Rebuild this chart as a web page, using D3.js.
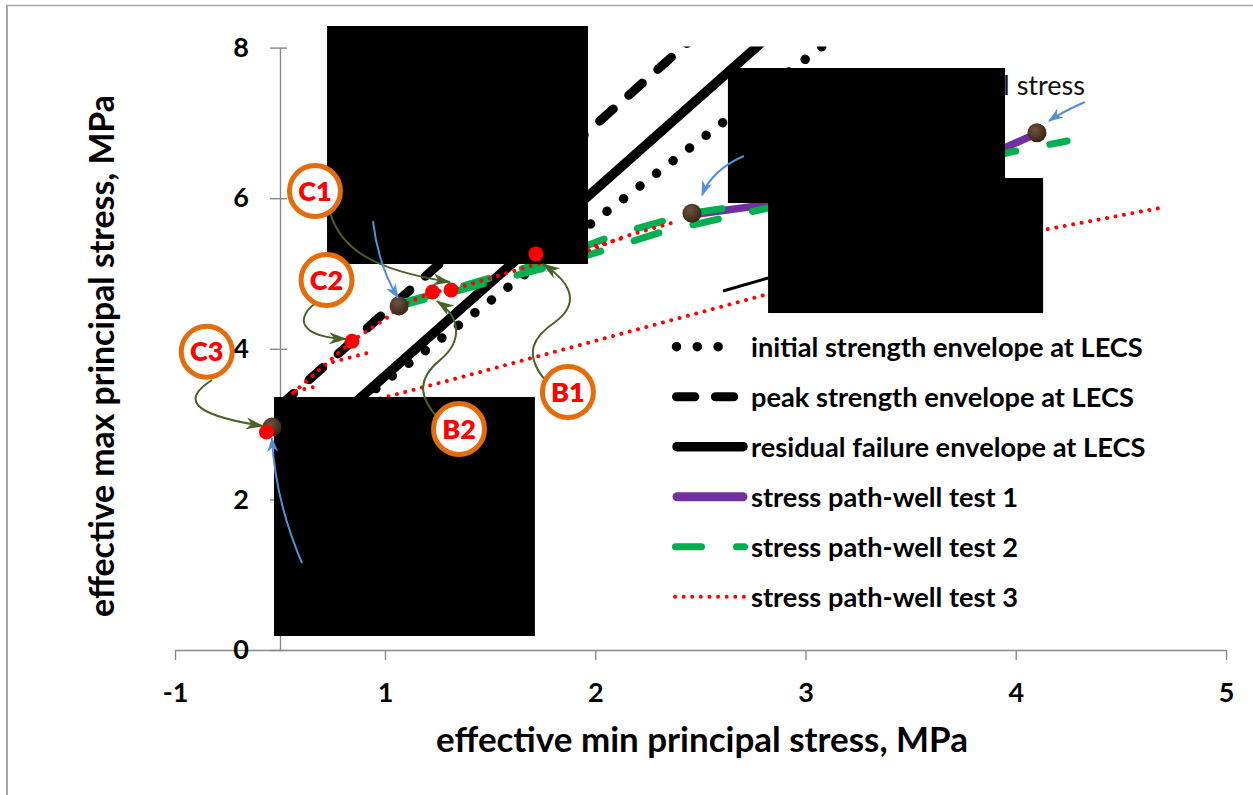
<!DOCTYPE html>
<html><head><meta charset="utf-8">
<script src="https://cdn.jsdelivr.net/npm/d3@7"></script>
<style>
body{margin:0;background:#fff}
svg{display:block}
text{font-family:Lato,"Open Sans",sans-serif}
</style>
</head><body>
<svg id="chart" width="1253" height="795"></svg>
<script>
// ---------- data ----------
const xTicks = [-1, 1, 2, 3, 4, 5];
const yTicks = [0, 2, 4, 6, 8];
const xTitle = "effective min principal stress, MPa";
const yTitle = "effective max principal stress, MPa";

const initialEnvelope  = [[3.077, 8.012], [0.5, 3.03]];
const peakEnvelope     = [[0.0, 3.245], [2.45, 8.09]];
const residualEnvelope = [[0.5, 3.02], [2.8, 8.09]];

const wellTest1 = [[2.460, 5.78], [2.831, 5.92], [3.949, 6.67], [4.101, 6.86]];
const wellTest2Lower = [[1.067, 4.568], [1.485, 4.874], [1.832, 5.126], [2.332, 5.564], [2.822, 5.870], [3.977, 6.614], [4.244, 6.760]];
const wellTest2Upper = [[1.095, 4.622], [1.404, 4.861], [1.713, 5.113], [2.108, 5.525], [2.460, 5.803], [2.688, 5.896]];
const wellTest3Upper = [[-0.114, 2.948], [0.124, 3.413], [0.686, 4.104], [1.014, 4.422], [1.071, 4.568], [1.224, 4.754], [1.314, 4.781], [1.675, 5.086], [1.975, 5.312], [2.132, 5.485], [2.379, 5.684]];
const wellTest3Return = [[1.718, 5.259], [2.023, 5.378], [2.132, 5.471]];
const wellTest3StepA = [[0.152, 3.440], [0.362, 3.506]];
const wellTest3StepB = [[0.505, 3.825], [0.829, 3.944]];
const wellTest3Lower = [[-0.076, 2.961], [1.347, 3.612], [2.822, 4.728], [4.130, 5.578], [4.710, 5.883]];

const initialStressPoints = [[-0.076, 2.96], [1.067, 4.57], [2.460, 5.80], [4.101, 6.87]];
const failurePoints = [[-0.129, 2.895], [0.686, 4.10], [1.226, 4.754], [1.314, 4.78], [1.718, 5.26]];

const leaderLine = [[2.608, 4.768], [2.822, 4.940]];

const legendLabels = ["initial strength envelope at LECS", "peak strength envelope at LECS",
  "residual failure envelope at LECS", "stress path-well test 1", "stress path-well test 2",
  "stress path-well test 3"];

const circleLabels = ["C1", "C2", "C3", "B2", "B1"];
const circleCenters = [[0.333, 6.096], [0.443, 4.914], [-0.698, 3.961], [1.352, 2.935], [1.870, 3.426]];

// curved connectors (cubic Bezier control points, data units)
const greenArrows = [
  [[0.476, 5.817], [0.571, 5.339], [0.876, 5.046], [1.309, 4.887]],
  [[0.381, 4.648], [0.114, 4.409], [0.190, 4.157], [0.629, 4.130]],
  [[-0.648, 3.586], [-0.914, 3.347], [-0.895, 3.134], [-0.162, 2.975]],
  [[1.247, 3.094], [1.157, 3.386], [1.157, 3.612], [1.262, 3.851], [1.366, 4.090], [1.366, 4.409], [1.247, 4.635]],
  [[1.761, 3.586], [1.652, 3.958], [1.713, 4.170], [1.809, 4.356], [1.918, 4.582], [1.903, 4.847], [1.751, 5.126]]
];
// quadratic connectors
const blueArrows = [
  [[0.886, 5.697], [0.933, 5.113], [1.062, 4.675]],
  [[2.707, 6.560], [2.555, 6.375], [2.508, 6.042]],
  [[4.329, 7.278], [4.220, 7.145], [4.158, 7.025]],
  [[0.210, 1.155], [-0.048, 1.992], [-0.076, 2.815]]
];
const noteText = "initial stress";
const notePos = [4.329, 7.371];

// masking boxes [x0, y0, x1, y1] in data units
const maskBoxes = [
  [0.448, 8.287, 1.9655, 5.126],
  [2.631, 7.729, 3.949, 5.936],
  [2.822, 6.268, 4.130, 4.475],
  [-0.057, 3.360, 1.713, 0.186]
];

// ---------- setup ----------
const svg = d3.select("#chart");
const x = d3.scaleLinear().domain([-1, 1, 5]).range([175, 385, 1226]);
const y = d3.scaleLinear().domain([0, 8]).range([650, 47.6]);
const line = d3.line().x(d => x(d[0])).y(d => y(d[1]));
const P = d => `${x(d[0])},${y(d[1])}`;

const defs = svg.append("defs");
defs.append("clipPath").attr("id", "plotClip").append("rect")
  .attr("x", x(-1)).attr("y", y(8) - 1).attr("width", x(5) - x(-1)).attr("height", y(0) - y(8) + 1);

function marker(id, color, len, wid) {
  defs.append("marker").attr("id", id).attr("markerUnits", "userSpaceOnUse")
    .attr("viewBox", `0 ${-wid/2} ${len} ${wid}`).attr("refX", len - 1).attr("refY", 0)
    .attr("markerWidth", len).attr("markerHeight", wid).attr("orient", "auto")
    .append("path").attr("d", `M0,${-wid/2} L${len},0 L0,${wid/2} L${len*0.3},0 Z`).attr("fill", color);
}
marker("arrG", "#4a6228", 18, 12);
marker("arrB", "#558ed5", 15, 11);

const grad = defs.append("radialGradient").attr("id", "brownGrad").attr("cx", "40%").attr("cy", "35%").attr("r", "65%");
grad.append("stop").attr("offset", "0%").attr("stop-color", "#6e5342");
grad.append("stop").attr("offset", "100%").attr("stop-color", "#3a2516");

// frame
svg.append("line").attr("x1", 6).attr("x2", 1253).attr("y1", 5.5).attr("y2", 5.5).attr("stroke", "#a8a8a8").attr("stroke-width", 1.5);
svg.append("line").attr("x1", 7).attr("x2", 7).attr("y1", 5).attr("y2", 795).attr("stroke", "#a8a8a8").attr("stroke-width", 2);

// ---------- axes ----------
const axisColor = "#898989";
const gx = svg.append("g").attr("transform", `translate(0,${y(0)})`)
  .call(d3.axisBottom(x).tickValues(xTicks).tickSize(10).tickSizeOuter(0).tickPadding(23).tickFormat(d => String(d)));
const gy = svg.append("g").attr("transform", `translate(${x(0)},0)`)
  .call(d3.axisLeft(y).tickValues(yTicks).tickSize(10).tickSizeOuter(0).tickPadding(21).tickFormat(d => String(d)));
[gx, gy].forEach(g => {
  g.select(".domain").attr("stroke", axisColor).attr("stroke-width", 1.4);
  g.selectAll(".tick line").attr("stroke", axisColor).attr("stroke-width", 1.4);
  g.selectAll(".tick text").attr("fill", "#000").attr("font-size", 27).attr("font-weight", 700)
    .attr("font-family", "Lato, sans-serif");
});
gy.selectAll(".tick line").attr("x1", 7);

function fit(sel, target) {
  const w = sel.node().getComputedTextLength();
  const fs = parseFloat(sel.attr("font-size"));
  sel.attr("font-size", fs * target / w);
  return fs * target / w;
}
const xt = svg.append("text").attr("x", 702).attr("y", 752).attr("text-anchor", "middle")
  .attr("font-size", 30).attr("font-weight", 700).text(xTitle);
fit(xt, 532);
const yt = svg.append("text").attr("transform", "translate(114,356) rotate(-90)").attr("text-anchor", "middle")
  .attr("font-size", 30).attr("font-weight", 700).text(yTitle);
fit(yt, 522);

// ---------- series ----------
const styles = {
  initial: {stroke: "#000", width: 9.5, dash: "0.01,20.8"},
  peak: {stroke: "#000", width: 9, dash: "18.3,20.6"},
  residual: {stroke: "#000", width: 9.5, dash: null},
  test1: {stroke: "#7030a0", width: 7.5, dash: null},
  test2: {stroke: "#00b050", width: 7, dash: "26,35"},
  test3: {stroke: "#ff0000", width: 4, dash: "0.01,8.6"}
};
const plot = svg.append("g").attr("clip-path", "url(#plotClip)");
function drawLine(data, st) {
  plot.append("path").attr("d", line(data)).attr("fill", "none")
    .attr("stroke", st.stroke).attr("stroke-width", st.width)
    .attr("stroke-linecap", "round").attr("stroke-linejoin", "round")
    .attr("stroke-dasharray", st.dash);
}
drawLine(initialEnvelope, styles.initial);
drawLine(peakEnvelope, styles.peak);
drawLine(residualEnvelope, styles.residual);
drawLine(wellTest1, styles.test1);
drawLine(wellTest2Upper, styles.test2);
drawLine(wellTest2Lower, styles.test2);
[wellTest3Upper, wellTest3Return, wellTest3StepA, wellTest3StepB, wellTest3Lower].forEach(d => drawLine(d, styles.test3));
plot.append("path").attr("d", line(leaderLine)).attr("stroke", "#000").attr("stroke-width", 3);

// note text (partly hidden by masks)
svg.append("text").attr("x", x(notePos[0])).attr("y", y(notePos[1])).attr("text-anchor", "end")
  .attr("font-size", 27).attr("fill", "#111").text(noteText);

// mask boxes
svg.selectAll("rect.mask").data(maskBoxes).join("rect").attr("class", "mask")
  .attr("x", d => x(d[0])).attr("y", d => y(d[1]))
  .attr("width", d => x(d[2]) - x(d[0])).attr("height", d => y(d[3]) - y(d[1]))
  .attr("fill", "#000");

// points
svg.selectAll("circle.init").data(initialStressPoints).join("circle").attr("class", "init")
  .attr("cx", d => x(d[0])).attr("cy", d => y(d[1])).attr("r", 9.5).attr("fill", "url(#brownGrad)");
svg.selectAll("circle.fail").data(failurePoints).join("circle").attr("class", "fail")
  .attr("cx", d => x(d[0])).attr("cy", d => y(d[1])).attr("r", 7.5).attr("fill", "#ff0000");

// connectors
function cubicPath(pts) {
  let s = `M${P(pts[0])}`;
  for (let i = 1; i + 2 < pts.length; i += 3) s += ` C${P(pts[i])} ${P(pts[i+1])} ${P(pts[i+2])}`;
  return s;
}
greenArrows.forEach(a => svg.append("path").attr("d", cubicPath(a)).attr("fill", "none")
  .attr("stroke", "#4a6228").attr("stroke-width", 2).attr("marker-end", "url(#arrG)"));
blueArrows.forEach(a => svg.append("path").attr("d", `M${P(a[0])} Q${P(a[1])} ${P(a[2])}`).attr("fill", "none")
  .attr("stroke", "#558ed5").attr("stroke-width", 2).attr("marker-end", "url(#arrB)"));

// labelled circles
const cg = svg.selectAll("g.lab").data(circleLabels).join("g").attr("class", "lab")
  .attr("transform", (d, i) => `translate(${x(circleCenters[i][0])},${y(circleCenters[i][1])})`);
cg.append("circle").attr("r", 25.5).attr("fill", "#fff").attr("stroke", "#e46c0a").attr("stroke-width", 5);
cg.append("text").attr("text-anchor", "middle").attr("dy", "0.36em").attr("font-size", 27)
  .attr("font-weight", 800).attr("fill", "#ff0000").text(d => d);

// ---------- legend ----------
const legendKeys = ["initial", "peak", "residual", "test1", "test2", "test3"];
const legendSpans = [[676.5, 738.5], [676.5, 736], [677, 743], [677, 743], [675.5, 744.5], [675, 745]];
const lg = svg.append("g");
let legendFont = null;
legendKeys.forEach((k, i) => {
  const st = styles[k];
  const yy = 346.7 + 50 * i;
  lg.append("line").attr("x1", legendSpans[i][0]).attr("x2", legendSpans[i][1]).attr("y1", yy).attr("y2", yy)
    .attr("stroke", st.stroke).attr("stroke-width", k === "test1" ? 9 : st.width)
    .attr("stroke-linecap", "round").attr("stroke-dasharray", st.dash);
  const t = lg.append("text").attr("x", 751).attr("y", yy).attr("dy", "0.36em")
    .attr("font-size", legendFont || 23).attr("font-weight", 700).text(legendLabels[i]);
  if (i === 0) legendFont = fit(t, 392);
});
</script>
</body></html>
